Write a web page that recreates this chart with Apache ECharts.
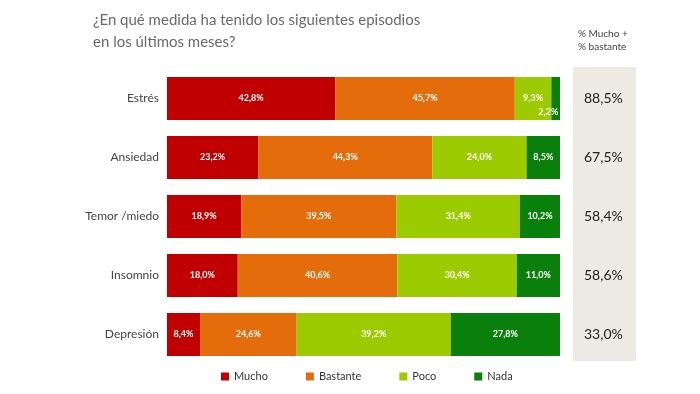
<!DOCTYPE html>
<html><head><meta charset="utf-8">
<script src="https://cdn.jsdelivr.net/npm/echarts@6/dist/echarts.min.js"></script>
<style>html,body{margin:0;padding:0;background:#fff}#c{width:700px;height:394px}</style>
</head><body><div id="c"></div>
<script>
const categories = ['Estrés','Ansiedad','Temor /miedo','Insomnio','Depresión'];
const mucho    = [42.8, 23.2, 18.9, 18.0, 8.4];
const bastante = [45.7, 44.3, 39.5, 40.6, 24.6];
const poco     = [9.3, 24.0, 31.4, 30.4, 39.2];
const nada     = [2.2, 8.5, 10.2, 11.0, 27.8];
const totals   = ['88,5%','67,5%','58,4%','58,6%','33,0%'];
const seriesNames = ['Mucho','Bastante','Poco','Nada'];
const colors = ['#C00000','#E46C0A','#9BCB00','#0B7F0B'];
const FONT = 'Lato, "Open Sans", sans-serif';

const fmt = v => v.toFixed(1).replace('.', ',') + '%';
const mk = (name, data, color, idx) => ({
  name, type:'bar', stack:'t', barWidth:43, data: data.map((v,i)=>{
    const d = {value:v};
    if (idx===3 && i===0) d.label = {position:[-13, 31], align:'left', verticalAlign:'top', overflow:'none'};
    return d;
  }),
  itemStyle:{color},
  label:{show:true, position:'inside', color:'#fff', fontSize:9, fontWeight:'bold', fontFamily:FONT,
    overflow:'none', formatter:p=>fmt(p.value)},
  labelLayout:{hideOverlap:false},
  emphasis:{disabled:true}
});

const chart = echarts.init(document.getElementById('c'));
chart.setOption({
  animation:false,
  textStyle:{fontFamily:FONT},
  graphic:[
    {type:'text', left:93, top:9, style:{text:'¿En qué medida ha tenido los siguientes episodios\nen los últimos meses?', fill:'#6a6a6a', font:'15px '+FONT, lineHeight:22}},
    {type:'text', left:578, top:27, style:{text:'% Mucho +\n% bastante', fill:'#444', font:'10px '+FONT, lineHeight:13}},
    {type:'rect', shape:{x:573, y:67, width:63, height:294}, style:{fill:'#ECEAE2'}, z:-1}
  ],
  legend:{bottom:7, left:216, itemWidth:8, itemHeight:8, icon:'rect', itemGap:38,
    textStyle:{fontSize:11, color:'#333', fontFamily:FONT}, data:seriesNames},
  grid:{left:167, right:140, top:69, bottom:30},
  xAxis:{type:'value', min:0, max:100, show:false},
  yAxis:[
    {type:'category', data:categories, inverse:true, axisLine:{show:false}, axisTick:{show:false},
      axisLabel:{color:'#444', fontSize:12, margin:8, fontFamily:FONT}},
    {type:'category', data:totals, inverse:true, position:'right', axisLine:{show:false}, axisTick:{show:false},
      axisLabel:{color:'#222', fontSize:14, margin:24, fontFamily:FONT}}
  ],
  series:[
    mk(seriesNames[0], mucho, colors[0], 0),
    mk(seriesNames[1], bastante, colors[1], 1),
    mk(seriesNames[2], poco, colors[2], 2),
    mk(seriesNames[3], nada, colors[3], 3)
  ]
});
</script></body></html>
